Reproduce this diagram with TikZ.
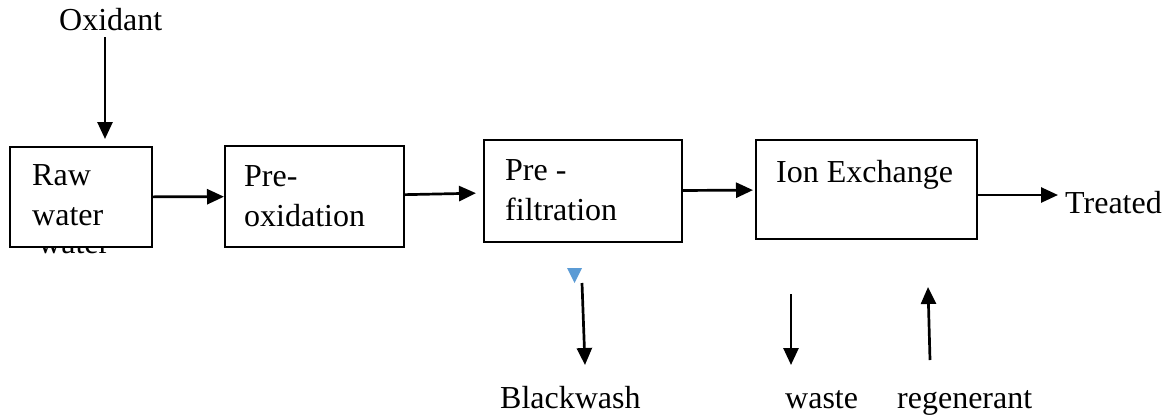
\documentclass[tikz,border=0pt]{standalone}
\usepackage{fontspec}
\setmainfont{Liberation Serif}
\usetikzlibrary{arrows.meta}
\definecolor{markblue}{HTML}{5B9BD5}
\tikzset{
  stage/.style={draw=black, line width=1.3pt, fill=white, inner sep=0pt, outer sep=0pt},
  txt/.style={inner sep=0pt, anchor=base west, font=\fontsize{32}{40}\selectfont},
  flow/.style={line width=2.7pt, -{Triangle[length=17pt,width=15pt]}}
}
\begin{document}
\begin{tikzpicture}[x=1pt,y=-1pt]
\useasboundingbox (0,0) rectangle (1175,416);

% stray line of text sitting behind the first box
\node[txt] (ghost) at (38,253) {water};

% process stages
\node[stage, minimum width=142pt, minimum height=100pt] (raw) at (81,197) {};
\node[stage, minimum width=179pt, minimum height=101pt] (preox) at (314.5,196.5) {};
\node[stage, minimum width=198pt, minimum height=102pt] (prefilt) at (583,191) {};
\node[stage, minimum width=221pt, minimum height=99pt] (ion) at (866.5,189.5) {};

% stage captions
\node[txt] (rawA) at (32,185) {Raw};
\node[txt] (rawB) at (32,225) {water};
\node[txt] (preoxA) at (244,186) {Pre-};
\node[txt] (preoxB) at (244,226) {oxidation};
\node[txt] (prefiltA) at (505,180) {Pre -};
\node[txt] (prefiltB) at (505,220) {filtration};
\node[txt] (ionA) at (776,182) {Ion Exchange};

% inputs and outputs
\node[txt] (oxid) at (59,30) {Oxidant};
\node[txt] (treated) at (1065,213) {Treated};
\node[txt] (backwash) at (500,408) {Blackwash};
\node[txt] (waste) at (785,408) {waste};
\node[txt] (regen) at (897,408) {regenerant};

\coordinate (oxtop) at (105,37);
\coordinate (tout) at (1058,195);
\coordinate (bwtop) at (582,283);
\coordinate (bwend) at (585,365);
\coordinate (wtop) at (791,294);
\coordinate (wend) at (791,365);
\coordinate (rgbot) at (930,360);
\coordinate (rgend) at (928,287);

% main flow
\draw[flow, shorten >=1pt] (raw) -- (preox);
\draw[flow, shorten >=8pt] (preox) -- (prefilt);
\draw[flow, shorten >=3pt] (prefilt) -- (ion);
\draw[flow] (ion.east |- tout) -- (tout);

% side streams
\draw[flow, shorten >=8pt] (oxtop) -- (oxtop |- raw.north);
\draw[flow] (bwtop) -- (bwend);
\draw[flow] (wtop) -- (wend);
\draw[flow] (rgbot) -- (rgend);

% small marker above the backwash line
\fill[markblue] (567,268) -- (582,268) -- (574.5,283) -- cycle;
\end{tikzpicture}
\end{document}
